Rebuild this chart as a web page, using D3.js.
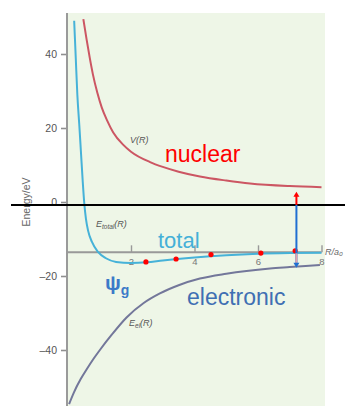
<!DOCTYPE html>
<html>
<head>
<meta charset="utf-8">
<script src="https://cdn.jsdelivr.net/npm/d3@7/dist/d3.min.js"></script>
<style>
  html, body { margin: 0; padding: 0; background: #ffffff; }
  svg { display: block; font-family: "Liberation Sans", Arial, sans-serif; }
</style>
</head>
<body>
<svg id="chart" width="345" height="406"></svg>
<script>
// Internuclear distance R (bohr) and energies (eV) for the H2+ ion
const rNuclear = [0.5, 0.6, 0.7, 0.8, 0.94, 1.08, 1.25, 1.44, 1.75, 2.0, 2.6, 3.0, 3.5, 4.17, 5.0, 5.75, 7.0, 8.0];
const eNuclear = [49.4, 44, 39, 34.5, 29.5, 25.5, 22, 18.8, 15.5, 13.6, 10.8, 9.5, 8.2, 6.9, 5.8, 5.0, 4.3, 4.0];

const rTotal = [0.21, 0.26, 0.31, 0.37, 0.42, 0.48, 0.53, 0.58, 0.65, 0.77, 0.96, 1.21, 1.53, 2.0, 2.5, 3.0, 4.0, 5.0, 6.0, 7.0, 8.0];
const eTotal = [49, 39, 29, 21, 14, 5.5, -0.5, -4.5, -7.8, -10.8, -13.5, -15.2, -16.2, -16.5, -16.3, -15.8, -15.0, -14.4, -14.0, -13.8, -13.7];

const rElectronic = [0.05, 0.2, 0.42, 0.62, 0.81, 1.02, 1.4, 1.86, 2.4, 2.91, 3.5, 4.17, 5.0, 6.38, 7.0, 7.95];
const eElectronic = [-54.6, -51.5, -47.8, -45, -42.5, -40, -35.8, -31.2, -27.3, -24.7, -22.5, -20.7, -19.4, -18.0, -17.6, -17.0];

// Sample points marked on the total-energy curve
const rDots = [2.47, 3.42, 4.52, 6.09, 7.17];
const eDots = [-16.2, -15.4, -14.2, -13.8, -13.2];

const yTicks = [40, 20, 0, -20, -40];
const xTicks = [2, 4, 6, 8];
const axisLevel = -13.6;     // dissociation limit H + H+
const referenceLevel = -0.8; // black reference line
const arrowR = 7.21;
const arrowTop = 2.8, arrowBottom = -17.8;

const svg = d3.select("#chart");
const x = d3.scaleLinear().domain([0, 8]).range([67.5, 321.5]);
const y = d3.scaleLinear().domain([-40, 40]).range([350, 54]);
const plotTop = 13, plotBottom = 406, plotLeft = 67, plotRight = 325;

// plot background
svg.append("rect")
  .attr("x", plotLeft).attr("y", plotTop)
  .attr("width", plotRight - plotLeft).attr("height", plotBottom - plotTop)
  .attr("fill", "#eef6e7");

svg.append("defs").append("clipPath").attr("id", "plotClip")
  .append("rect").attr("x", plotLeft).attr("y", plotTop)
  .attr("width", 400).attr("height", plotBottom - plotTop);

// y axis
const yAxis = d3.axisLeft(y).tickValues(yTicks).tickSize(6).tickPadding(4)
  .tickFormat(d => d < 0 ? "\u2013" + Math.abs(d) : d);
const gy = svg.append("g").attr("transform", `translate(${plotLeft},0)`).call(yAxis);
gy.select(".domain").remove();
gy.selectAll(".tick line").attr("stroke", "#8f8f8f").attr("stroke-width", 1.6);
gy.selectAll(".tick text").attr("fill", "#555").attr("font-size", 10.5);
svg.append("line")
  .attr("x1", plotLeft).attr("x2", plotLeft).attr("y1", plotTop).attr("y2", plotBottom)
  .attr("stroke", "#9a9a9a").attr("stroke-width", 2);

svg.append("text")
  .attr("transform", "translate(30,202) rotate(-90)")
  .attr("text-anchor", "middle").attr("font-size", 10.5).attr("fill", "#666")
  .text("Energy/eV");

// x axis at the dissociation limit
const xAxis = d3.axisBottom(x).tickValues(xTicks).tickSize(0).tickPadding(6);
const gx = svg.append("g").attr("transform", `translate(0,${y(axisLevel)})`).call(xAxis);
gx.select(".domain").remove();
gx.selectAll(".tick text").attr("fill", "#777").attr("font-size", 9.5);
gx.selectAll(".tick").append("line")
  .attr("y1", 0).attr("y2", -7).attr("stroke", "#999").attr("stroke-width", 1.4);
svg.append("line")
  .attr("x1", plotLeft).attr("x2", x(8)).attr("y1", y(axisLevel)).attr("y2", y(axisLevel))
  .attr("stroke", "#999").attr("stroke-width", 2);
svg.append("text")
  .attr("x", 325).attr("y", y(axisLevel) + 3)
  .attr("font-size", 9).attr("font-style", "italic").attr("fill", "#666")
  .text("R/a\u2080");

// curves
const line = d3.line().x(d => x(d[0])).y(d => y(d[1])).curve(d3.curveMonotoneX);
const curves = svg.append("g").attr("clip-path", "url(#plotClip)");
curves.append("path").datum(d3.zip(rNuclear, eNuclear))
  .attr("d", line).attr("fill", "none").attr("stroke", "#cc5663").attr("stroke-width", 2);
curves.append("path").datum(d3.zip(rElectronic, eElectronic))
  .attr("d", line).attr("fill", "none").attr("stroke", "#73779a").attr("stroke-width", 2);
curves.append("path").datum(d3.zip(rTotal, eTotal))
  .attr("d", line).attr("fill", "none").attr("stroke", "#46b2d8").attr("stroke-width", 2);

// curve labels
function curveLabel(px, py, main, sub) {
  const t = svg.append("text").attr("x", px).attr("y", py)
    .attr("font-size", 9).attr("font-style", "italic").attr("fill", "#555");
  t.append("tspan").text(main);
  if (sub) t.append("tspan").attr("font-size", 6.5).attr("dy", 2).text(sub);
  t.append("tspan").attr("dy", sub ? -2 : 0).text("(R)");
}
curveLabel(130, 143, "V", null);
curveLabel(96, 227, "E", "total");
curveLabel(129, 326, "E", "el");

svg.append("text").attr("x", 165).attr("y", 162)
  .attr("font-size", 23).attr("fill", "#ff0000").text("nuclear");
svg.append("text").attr("x", 158).attr("y", 248)
  .attr("font-size", 22).attr("fill", "#44b0d8").text("total");
svg.append("text").attr("x", 187).attr("y", 305)
  .attr("font-size", 23).attr("fill", "#3f6fb3").text("electronic");
const psi = svg.append("text").attr("x", 105).attr("y", 290)
  .attr("fill", "#3b7ac8").attr("font-weight", "bold");
psi.append("tspan").attr("font-size", 21).text("\u03c8");
psi.append("tspan").attr("font-size", 14).attr("dy", 5).text("g");

// black reference line
svg.append("line")
  .attr("x1", 11).attr("x2", 345).attr("y1", y(referenceLevel)).attr("y2", y(referenceLevel))
  .attr("stroke", "#000").attr("stroke-width", 2);

// red sample points
svg.selectAll("circle.dot").data(d3.zip(rDots, eDots)).join("circle")
  .attr("class", "dot")
  .attr("cx", d => x(d[0])).attr("cy", d => y(d[1])).attr("r", 2.6)
  .attr("fill", "#ff0000");

// energy arrows: nuclear part up, electronic part down
const ax = x(arrowR);
svg.append("line").attr("x1", ax).attr("x2", ax)
  .attr("y1", y(referenceLevel)).attr("y2", y(arrowTop) + 4)
  .attr("stroke", "#ff0000").attr("stroke-width", 2);
svg.append("path")
  .attr("d", `M${ax},${y(arrowTop)} l-3,5 l6,0 Z`).attr("fill", "#ff0000");
svg.append("line").attr("x1", ax).attr("x2", ax)
  .attr("y1", y(referenceLevel)).attr("y2", y(arrowBottom) - 4)
  .attr("stroke", "#1f6fd2").attr("stroke-width", 2);
svg.append("line").attr("x1", ax).attr("x2", ax)
  .attr("y1", y(axisLevel) + 1).attr("y2", y(arrowBottom) - 5)
  .attr("stroke", "#e3a3ac").attr("stroke-width", 2);
svg.append("path")
  .attr("d", `M${ax},${y(arrowBottom)} l-3,-5 l6,0 Z`).attr("fill", "#1f6fd2");
</script>
</body>
</html>
